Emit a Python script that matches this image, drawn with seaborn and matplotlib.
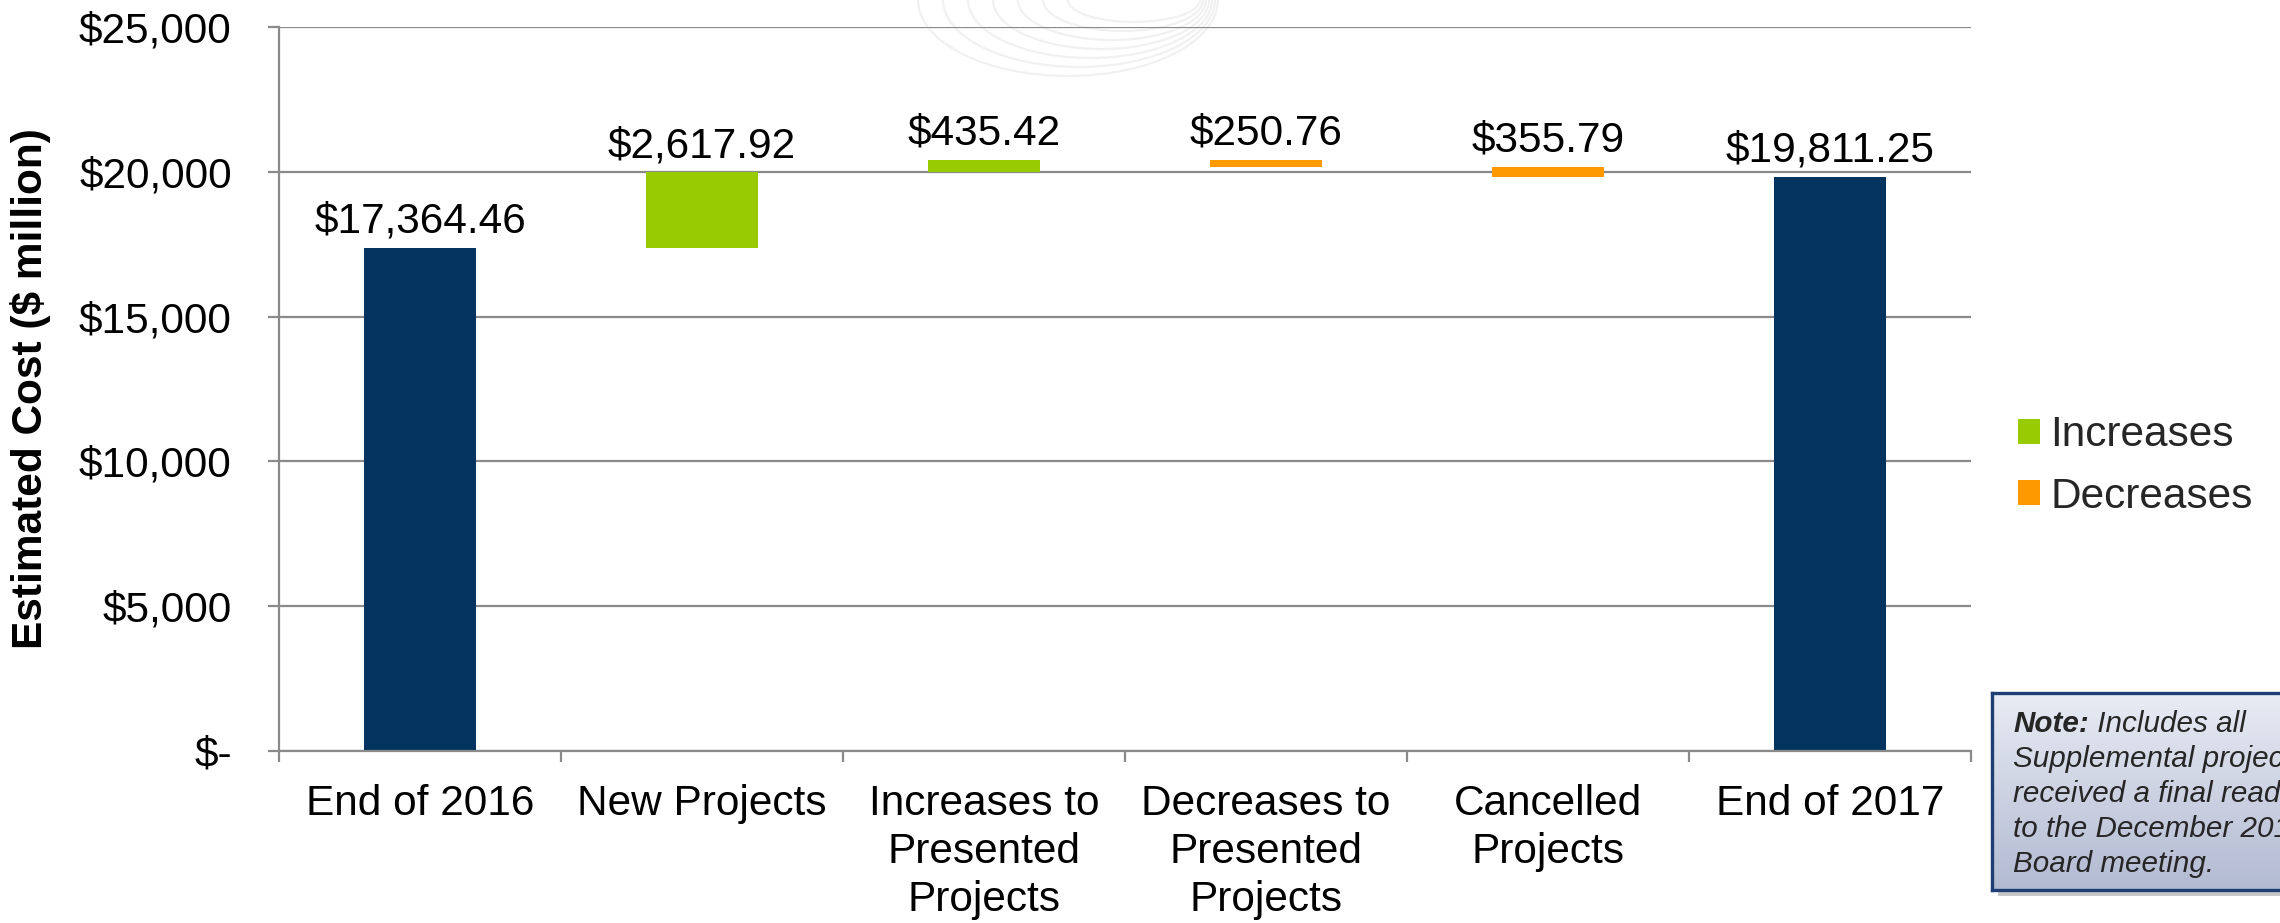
import numpy as np
import pandas as pd
import matplotlib
matplotlib.use("Agg")
import matplotlib.pyplot as plt
from matplotlib.patches import Arc, Rectangle
from matplotlib.colors import LinearSegmentedColormap
import seaborn as sns

# ---- data ----------------------------------------------------------------
categories = [
    "End of 2016",
    "New Projects",
    "Increases to\nPresented\nProjects",
    "Decreases to\nPresented\nProjects",
    "Cancelled\nProjects",
    "End of 2017",
]
start_total = 17364.46
end_total = 19811.25
change_steps = categories[1:5]
change_amounts = [2617.92, 435.42, -250.76, -355.79]
y_ticks = [0, 5000, 10000, 15000, 20000, 25000]
y_tick_labels = ["$-", "$5,000", "$10,000", "$15,000", "$20,000", "$25,000"]
legend_labels = ["Increases", "Decreases"]
note_head = "Note:"
note_first = " Includes all"
note_lines = [
    "Supplemental projects that",
    "received a final reading prior",
    "to the December 2017",
    "Board meeting.",
]

# ---- style -----------------------------------------------------------------
NAVY = "#03345f"
GREEN = "#99cc00"
ORANGE = "#ff9900"
GRAY = "#8a8a8a"
W, H = 2280, 923

sns.set_theme(style="white")
plt.rcParams["font.family"] = ["Liberation Sans", "DejaVu Sans"]
FS = 30.5


def fx(x):
    return x / W


def fy(y):
    return 1 - y / H


# ---- waterfall table ---------------------------------------------------------
rows = []
running = start_total
for step, amt in zip(change_steps, change_amounts):
    new = running + amt
    rows.append(dict(step=step, base=min(running, new), size=abs(amt),
                     kind="Increases" if amt > 0 else "Decreases"))
    running = new
changes = pd.DataFrame(rows)
totals = pd.DataFrame({"step": [categories[0], categories[-1]],
                       "size": [start_total, end_total],
                       "base": [0.0, 0.0]})

fig = plt.figure(figsize=(W / 100, H / 100), dpi=100)
fig.patch.set_facecolor("white")

# faint watermark arcs behind the plot
for k in range(7):
    a = 150 - 14 * k
    b = 76 - 9 * k
    cx = 1068 + 11 * k
    fig.add_artist(Arc((fx(cx), fy(0)), 2 * a / W, 2 * b / H, theta1=180, theta2=360,
                       transform=fig.transFigure, color="#f1f1f1", lw=1.6, zorder=-5))

ax = fig.add_axes([fx(279), fy(751), fx(1971 - 279), (751 - 27) / H])
ax.set_facecolor("none")

bar_kw = dict(x="step", y="size", order=categories, saturation=1, width=0.4,
              errorbar=None, ax=ax, linewidth=0)
sns.barplot(data=totals, color=NAVY, **bar_kw)
inc = changes[changes["kind"] == "Increases"]
dec = changes[changes["kind"] == "Decreases"]
sns.barplot(data=inc, color=GREEN, bottom=inc["base"].to_numpy(), **bar_kw)
sns.barplot(data=dec, color=ORANGE, bottom=dec["base"].to_numpy(), **bar_kw)

# value labels above every bar
for df in (totals, changes):
    for _, r in df.iterrows():
        xpos = categories.index(r["step"])
        ax.annotate(f"${r['size']:,.2f}", xy=(xpos, r["base"] + r["size"]),
                    xytext=(0, 11), textcoords="offset points",
                    ha="center", va="baseline", fontsize=FS, color="black")

# axes styling
ax.set_ylim(0, 25000)
ax.set_xlim(-0.5, len(categories) - 0.5)
ax.set_yticks(y_ticks)
ax.set_yticklabels(y_tick_labels)
ax.set_xticks(range(len(categories)))
ax.set_xticklabels(categories, linespacing=1.26)
ax.set_xticks(np.arange(-0.5, len(categories), 1.0), minor=True)
ax.set_xlabel("")
ax.yaxis.grid(True, color=GRAY, lw=1.6)
ax.set_axisbelow(True)
for side in ("top", "right"):
    ax.spines[side].set_visible(False)
for side in ("left", "bottom"):
    ax.spines[side].set_color(GRAY)
    ax.spines[side].set_linewidth(1.6)
ax.tick_params(axis="y", direction="out", length=8, width=1.6, color=GRAY,
               pad=26, labelsize=FS, labelcolor="black", left=True)
ax.tick_params(axis="x", which="major", length=0, pad=24, labelsize=FS,
               labelcolor="black")
ax.tick_params(axis="x", which="minor", direction="out", length=8, width=1.6,
               color=GRAY, bottom=True)

ax.set_ylabel("Estimated Cost ($ million)", fontsize=FS, fontweight="bold",
              color="black", va="center")
ax.yaxis.set_label_coords((30 - 279) / (1971 - 279), 0.5)

# legend for the change bars
handles = [ax.containers[1], ax.containers[2]]
fig.legend(handles, legend_labels, loc="center left",
           bbox_to_anchor=(fx(2018), fy(466)), frameon=False, fontsize=FS,
           handlelength=0.52, handleheight=0.52, handletextpad=0.25,
           labelspacing=0.5, borderpad=0, borderaxespad=0)

# note box with gradient fill and drop shadow
box_l, box_t, box_b, box_w = 1992, 693, 890, 320
fig.add_artist(Rectangle((fx(box_l + 6), fy(box_b + 6)), box_w / W, (box_b - box_t) / H,
                         transform=fig.transFigure, color="#9a9a9a", alpha=0.55,
                         lw=0, zorder=2))
nax = fig.add_axes([fx(box_l), fy(box_b), box_w / W, (box_b - box_t) / H], zorder=3)
grad = np.linspace(1, 0, 256).reshape(-1, 1)
cmap = LinearSegmentedColormap.from_list("note", ["#b2bad2", "#e9ecf4"])
nax.imshow(grad, aspect="auto", cmap=cmap, extent=[0, 1, 0, 1], vmin=0, vmax=1)
nax.set_xticks([])
nax.set_yticks([])
for s in nax.spines.values():
    s.set_color("#1d3f74")
    s.set_linewidth(2.4)

NFS = 21.3
head = fig.text(fx(2013), fy(732), note_head, fontsize=NFS, fontweight="bold",
                style="italic", va="baseline", ha="left", zorder=4)
nax.annotate(note_first, xy=(1, 0), xycoords=head, va="bottom", ha="left",
             fontsize=NFS, style="italic", annotation_clip=False)
for i, line in enumerate(note_lines):
    fig.text(fx(2013), fy(767 + 35 * i), line, fontsize=NFS, style="italic",
             va="baseline", ha="left", zorder=4)

fig.savefig("out.png", dpi=100)
